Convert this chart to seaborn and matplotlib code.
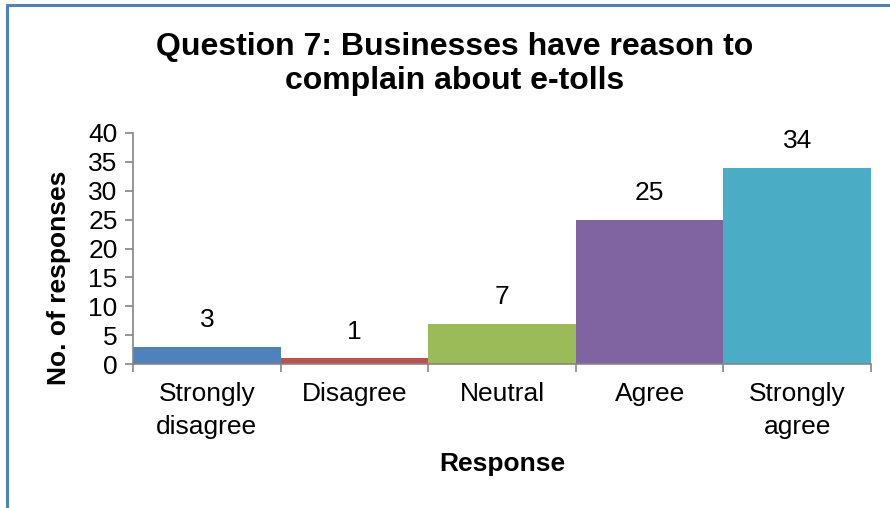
import matplotlib
matplotlib.use("Agg")
import matplotlib.pyplot as plt
from matplotlib.lines import Line2D
import seaborn as sns
import pandas as pd

categories = ["Strongly\ndisagree", "Disagree", "Neutral", "Agree", "Strongly\nagree"]
responses = [3, 1, 7, 25, 34]
colors = ["#4F81BD", "#C0504D", "#9BBB59", "#8064A2", "#4BACC6"]
yticks = [0, 5, 10, 15, 20, 25, 30, 35, 40]

sns.set_theme(style="white")
plt.rcParams["font.family"] = ["Liberation Sans", "DejaVu Sans"]
plt.rcParams["text.color"] = "black"

df = pd.DataFrame({"Response": categories, "Count": responses})

fig = plt.figure(figsize=(8.9, 5.08), dpi=100)
ax = fig.add_axes([133 / 890, 1 - 364 / 508, (871 - 133) / 890, (364 - 133) / 508])

sns.barplot(data=df, x="Response", y="Count", hue="Response", palette=colors,
            width=1.0, legend=False, saturation=1, ax=ax, edgecolor="none")

ax.set_xlim(-0.5, len(categories) - 0.5)
ax.set_ylim(0, 40)
ax.set_yticks(yticks)
ax.set_yticklabels([str(t) for t in yticks], fontsize=19)

# category labels centred under bars, tick marks at bar boundaries
ax.set_xticks(range(len(categories)))
ax.set_xticklabels(categories, fontsize=19, linespacing=1.45)
ax.tick_params(axis="x", length=0, pad=13)
ax.set_xticks([i - 0.5 for i in range(len(categories) + 1)], minor=True)
ax.tick_params(axis="x", which="minor", length=6, color="#868686", width=1.2, direction="out", bottom=True)
ax.tick_params(axis="y", length=6, color="#868686", width=1.2, direction="out", left=True, pad=5,
               labelcolor="black")
ax.tick_params(axis="x", labelcolor="black")

for s in ["top", "right"]:
    ax.spines[s].set_visible(False)
for s in ["left", "bottom"]:
    ax.spines[s].set_color("#868686")
    ax.spines[s].set_linewidth(1.2)

for i, v in enumerate(responses):
    ax.annotate(str(v), (i, v), xytext=(0, 19), textcoords="offset points",
                ha="center", va="center", fontsize=19, color="black")

ax.set_xlabel("Response", fontsize=19, fontweight="bold", color="black")
ax.xaxis.set_label_coords(0.5, -(452 - 364) / 231)
ax.set_ylabel("No. of responses", fontsize=19, fontweight="bold", color="black")
ax.yaxis.set_label_coords(-(133 - 71) / 738, (364 - 278) / 231)

fig.text(0.511, 1 - 64 / 508, "Question 7: Businesses have reason to\ncomplain about e-tolls",
         ha="center", va="center", fontsize=23, fontweight="bold", linespacing=1.2,
         color="black")

# frame edges along the top and left
fig.add_artist(Line2D([7 / 890, 1], [1 - 5 / 508, 1 - 5 / 508], color="#4F81BD", lw=2.2,
                      transform=fig.transFigure))
fig.add_artist(Line2D([7 / 890, 7 / 890], [0, 1 - 5 / 508], color="#4F81BD", lw=2.2,
                      transform=fig.transFigure))

fig.savefig("out.png", dpi=100, facecolor="white")
